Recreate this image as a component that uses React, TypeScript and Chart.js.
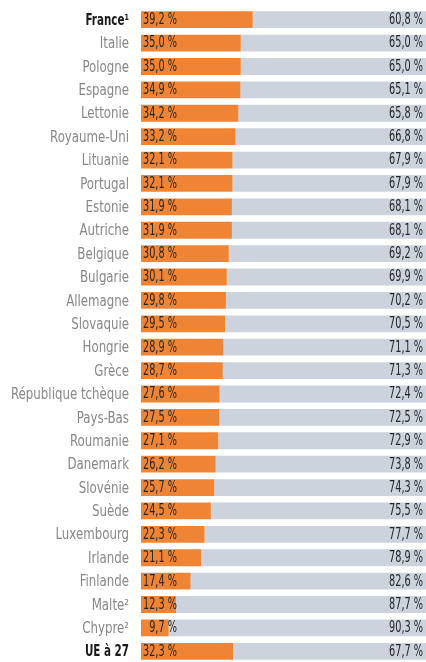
import React, { useEffect, useRef } from "react";
import { Chart, registerables } from "chart.js";

Chart.register(...registerables);

const countries = [
  "France¹", "Italie", "Pologne", "Espagne", "Lettonie", "Royaume-Uni", "Lituanie",
  "Portugal", "Estonie", "Autriche", "Belgique", "Bulgarie", "Allemagne", "Slovaquie",
  "Hongrie", "Grèce", "République tchèque", "Pays-Bas", "Roumanie", "Danemark",
  "Slovénie", "Suède", "Luxembourg", "Irlande", "Finlande", "Malte²", "Chypre²", "UE à 27",
];
const orangeValues = [
  39.2, 35.0, 35.0, 34.9, 34.2, 33.2, 32.1, 32.1, 31.9, 31.9, 30.8, 30.1, 29.8, 29.5,
  28.9, 28.7, 27.6, 27.5, 27.1, 26.2, 25.7, 24.5, 22.3, 21.1, 17.4, 12.3, 9.7, 32.3,
];
const greyValues = [
  60.8, 65.0, 65.0, 65.1, 65.8, 66.8, 67.9, 67.9, 68.1, 68.1, 69.2, 69.9, 70.2, 70.5,
  71.1, 71.3, 72.4, 72.5, 72.9, 73.8, 74.3, 75.5, 77.7, 78.9, 82.6, 87.7, 90.3, 67.7,
];
const boldRows = [0, 27];

const FONT = "'DejaVu Sans Condensed', 'Liberation Sans', sans-serif";
const ORANGE = "#EF8434";
const GREY = "#CCD3DD";

const fmt = (v: number) => v.toFixed(1).replace(".", ",") + " %";

function squashText(ctx: any, text: string, x: number, y: number, sx: number, align: string) {
  const w = ctx.measureText(text).width * sx;
  let left = x;
  if (align === "right") left = x - w;
  ctx.save();
  ctx.translate(left, y);
  ctx.scale(sx, 1);
  ctx.textAlign = "left";
  ctx.fillText(text, 0, 0);
  ctx.restore();
}

const textPlugin = {
  id: "textPlugin",
  afterDatasetsDraw(chart: any) {
    const ctx = chart.ctx;
    const m0 = chart.getDatasetMeta(0);
    const m1 = chart.getDatasetMeta(1);
    const yScale = chart.scales.y;
    ctx.save();
    ctx.textBaseline = "middle";
    countries.forEach((name, i) => {
      const y = yScale.getPixelForValue(i);
      const bold = boldRows.includes(i);
      ctx.font = `${bold ? "bold " : ""}16px ${FONT}`;
      ctx.fillStyle = bold ? "#1a1a1a" : "#878787";
      squashText(ctx, name, yScale.right - 12, y + 1, bold ? 0.72 : 0.82, "right");
    });
    ctx.font = `15px ${FONT}`;
    ctx.fillStyle = "#262626";
    const zeroW = ctx.measureText("0").width * 0.72;
    m0.data.forEach((el: any, i: number) => {
      const v = orangeValues[i];
      const x = Math.min(el.x, el.base) + 2 + (v < 10 ? zeroW : 0);
      squashText(ctx, fmt(v), x, el.y + 0.5, 0.72, "left");
    });
    m1.data.forEach((el: any, i: number) => {
      squashText(ctx, fmt(greyValues[i]), Math.max(el.x, el.base) - 3, el.y + 0.5, 0.72, "right");
    });
    ctx.restore();
  },
};

export default function App() {
  const ref = useRef<HTMLCanvasElement>(null);
  useEffect(() => {
    if (!ref.current) return;
    const chart = new Chart(ref.current, {
      type: "bar",
      data: {
        labels: countries,
        datasets: [
          { data: orangeValues, backgroundColor: ORANGE, borderWidth: 0 },
          { data: greyValues, backgroundColor: GREY, borderWidth: 0 },
        ],
      },
      options: {
        indexAxis: "y",
        animation: false,
        responsive: false,
        events: [],
        layout: { padding: { top: 8, bottom: 0, left: 0, right: 0 } },
        plugins: { legend: { display: false }, tooltip: { enabled: false } },
        datasets: { bar: { categoryPercentage: 1, barPercentage: 0.72 } },
        scales: {
          x: { stacked: true, min: 0, max: 100, display: false },
          y: {
            stacked: true,
            grid: { display: false, drawTicks: false },
            border: { display: false },
            ticks: { display: false, autoSkip: false },
            afterFit: (s: any) => {
              s.width = 141;
              s.paddingTop = 0;
              s.paddingBottom = 0;
            },
          },
        },
      },
      plugins: [textPlugin],
    });
    return () => chart.destroy();
  }, []);
  return (
    <div style={{ position: "fixed", left: 0, top: 0, width: 426, height: 663, background: "#fff" }}>
      <canvas ref={ref} width={426} height={663} style={{ display: "block" }} />
    </div>
  );
}
